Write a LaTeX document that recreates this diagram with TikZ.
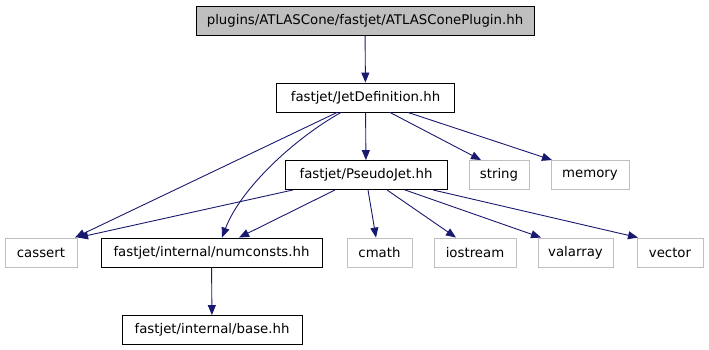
\documentclass[tikz,border=0pt]{standalone}
\usepackage{fontspec}
\setmainfont{DejaVu Sans}
\usetikzlibrary{arrows.meta}
\definecolor{edgecol}{HTML}{191970}
\definecolor{grayfill}{HTML}{BFBFBF}
\definecolor{grayline}{HTML}{BFBFBF}
\tikzset{
  box/.style={draw=black, line width=0.9pt, inner sep=0pt, minimum height=29pt, font=\fontsize{13.3}{15}\selectfont},
  sysbox/.style={draw=grayline, line width=0.9pt, inner sep=0pt, minimum height=29pt, font=\fontsize{13.3}{15}\selectfont},
  rootbox/.style={box, fill=grayfill},
  edge/.style={draw=edgecol, line width=0.9pt, -{Triangle[length=10pt,width=8pt]}}
}
\begin{document}
\begin{tikzpicture}[x=1pt,y=-1pt]
\useasboundingbox (0,0) rectangle (709,349);
\node[rootbox, minimum width=338pt] (root) at (365,20.5) {plugins/ATLASCone/fastjet/ATLASConePlugin.hh};
\node[box, minimum width=178pt] (jet) at (365.5,97.5) {fastjet/JetDefinition.hh};
\node[box, minimum width=162pt] (pj) at (366,175) {fastjet/PseudoJet.hh};
\node[sysbox, minimum width=60pt] (string) at (499,175) {string};
\node[sysbox, minimum width=78pt] (memory) at (590,175) {memory};
\node[sysbox, minimum width=72pt] (cassert) at (41,252.5) {cassert};
\node[box, minimum width=221pt] (num) at (211.5,252.5) {fastjet/internal/numconsts.hh};
\node[sysbox, minimum width=65pt] (cmath) at (379.5,252.5) {cmath};
\node[sysbox, minimum width=82pt] (iostream) at (475,252.5) {iostream};
\node[sysbox, minimum width=75pt] (valarray) at (575.5,252.5) {valarray};
\node[sysbox, minimum width=66pt] (vector) at (670,252.5) {vector};
\node[box, minimum width=180pt] (base) at (212,330) {fastjet/internal/base.hh};

\draw[edge] (root) -- (jet);
\draw[edge] (jet.south -| 337,0) -- (cassert.north -| 75,0);
\draw[edge] (jet.south -| 341,0) .. controls (292,140) and (240,190) .. (num.north -| 222,0);
\draw[edge] (jet) -- (pj);
\draw[edge] (jet.south -| 390,0) -- (string.north -| 481,0);
\draw[edge] (jet.south -| 408,0) -- (memory.north -| 552,0);
\draw[edge] (pj.south -| 293,0) -- (cassert.north -| 78,0);
\draw[edge] (pj.south -| 335,0) -- (num.north -| 239,0);
\draw[edge] (pj.south -| 368,0) -- (cmath.north -| 376,0);
\draw[edge] (pj.south -| 387,0) -- (iostream.north -| 456,0);
\draw[edge] (pj.south -| 405,0) -- (valarray.north -| 541,0);
\draw[edge] (pj.south -| 433,0) -- (vector.north -| 638,0);
\draw[edge] (num) -- (base);
\end{tikzpicture}
\end{document}
